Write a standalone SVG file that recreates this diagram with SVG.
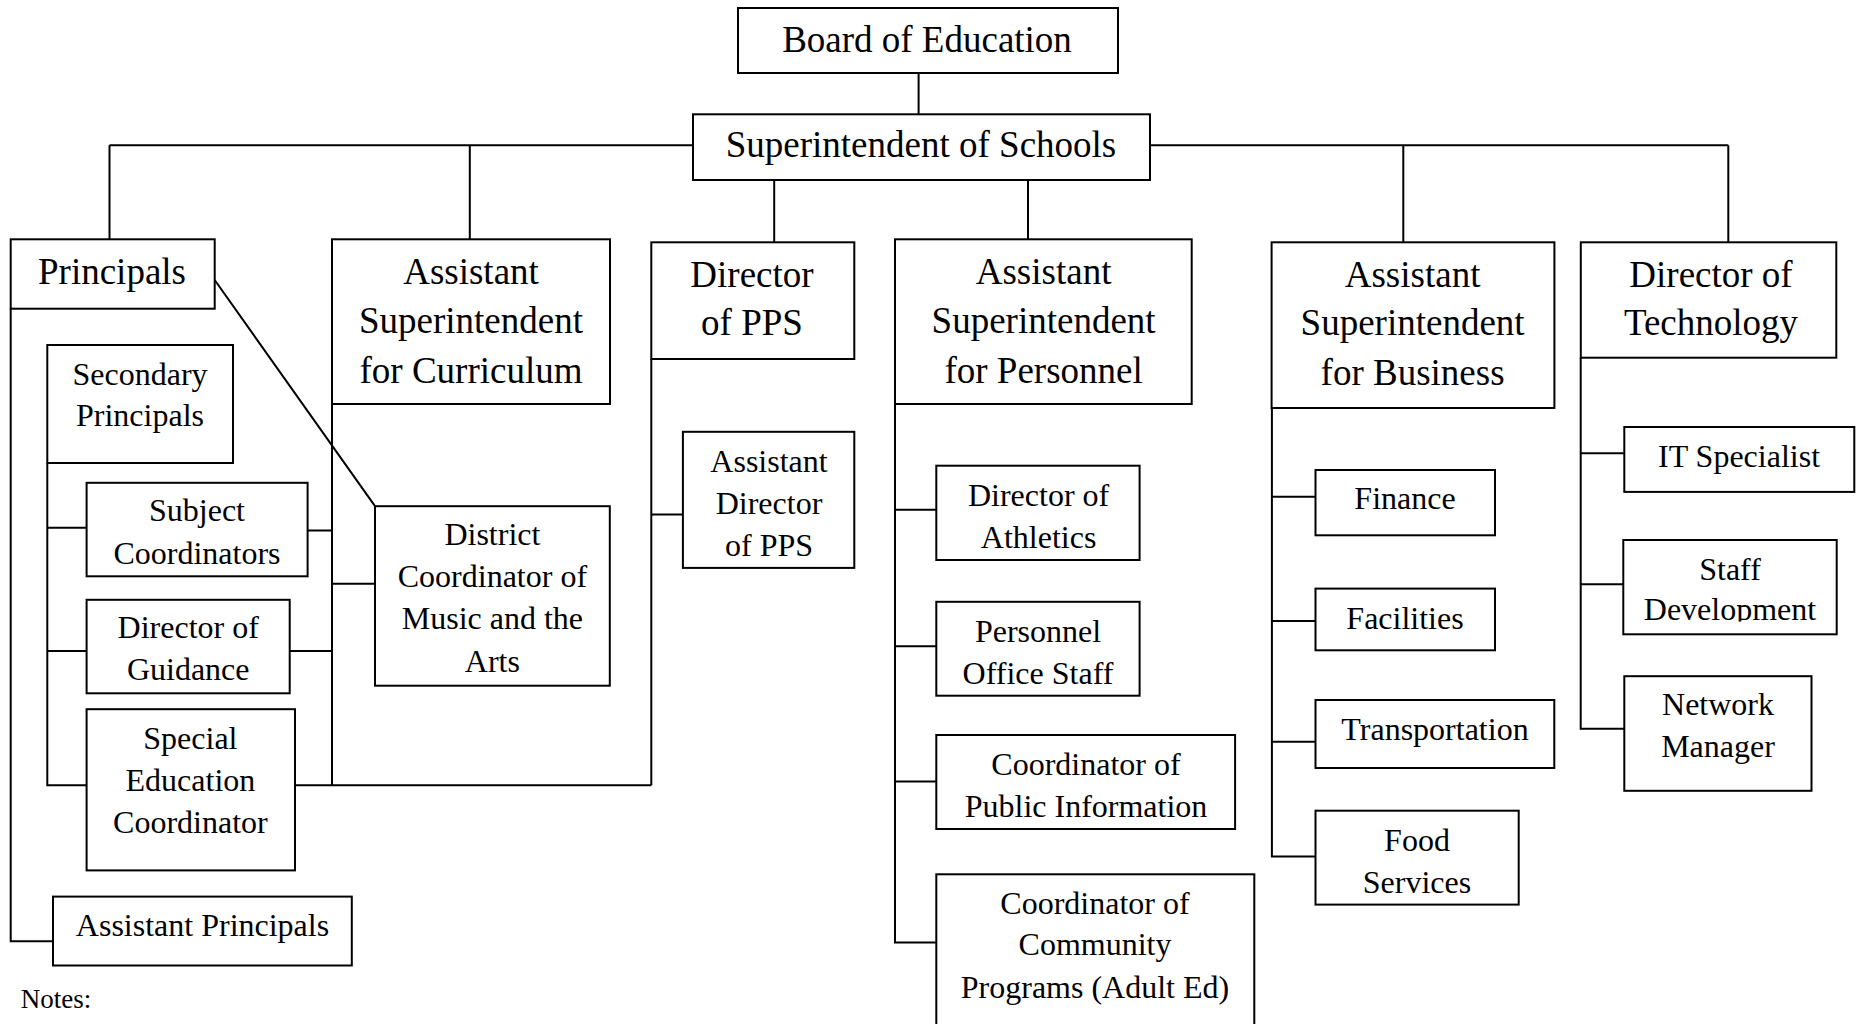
<svg xmlns="http://www.w3.org/2000/svg" width="1860" height="1024" viewBox="0 0 1860 1024">
<style>
rect{fill:#fff;stroke:#000;stroke-width:2}
#connectors path{fill:none;stroke:#000;stroke-width:2}
text{font-family:"Liberation Serif","Times New Roman",serif;fill:#000;text-anchor:middle}
.L{font-size:37px}
.S{font-size:32px}
</style>
<defs>
<clipPath id="sdclip"><rect x="1624" y="541" width="212" height="80.5"/></clipPath>
</defs>
<rect x="0" y="0" width="1860" height="1024" style="stroke:none"/>
<g id="connectors">
<path d="M109.5,145.3 H1728.3 M109.5,145.3 V239.3 M469.8,145.3 V239.3 M918.6,72.7 V114.3 M774.2,180 V242.3 M1028,180 V239.3 M1403.3,145.3 V242.3 M1728.3,145.3 V242.3"/>
<path d="M10.7,308.7 V941.2 H53 M47.3,462.9 V785.2 H86.6 M47.3,527.7 H86.6 M47.3,651.1 H86.6 M214.7,280 L375,506.2"/>
<path d="M332,404 V785.2 M307.6,530.5 H332 M289.7,651.1 H332 M332,583.8 H375 M295,785.2 H651.3"/>
<path d="M651.3,359 V785.2 M651.3,514.6 H682.9"/>
<path d="M895,404 V942.4 H936.3 M895,509.8 H936.3 M895,646.3 H936.3 M895,781.6 H936.3"/>
<path d="M1271.9,408 V856.4 H1315.5 M1271.9,496.7 H1315.5 M1271.9,620.9 H1315.5 M1271.9,741.8 H1315.5"/>
<path d="M1580.7,357.7 V728.7 H1624.3 M1580.7,453.3 H1624.3 M1580.7,584.2 H1624.3"/>
</g>
<g id="board"><rect x="738" y="8" width="380" height="65"/><text class="L" x="927" y="52">Board of Education</text></g>
<g id="superintendent"><rect x="693" y="114.3" width="457" height="65.7"/><text class="L" x="921" y="157">Superintendent of Schools</text></g>
<g id="principals"><rect x="10.7" y="239.3" width="204" height="69.4"/><text class="L" x="112" y="284">Principals</text></g>
<g id="asst-curriculum"><rect x="332" y="239.3" width="278" height="164.7"/><text class="L" x="471" y="284">Assistant</text><text class="L" x="471" y="333">Superintendent</text><text class="L" x="471" y="383">for Curriculum</text></g>
<g id="director-pps"><rect x="651.3" y="242.3" width="203" height="116.7"/><text class="L" x="752" y="287">Director</text><text class="L" x="752" y="335">of PPS</text></g>
<g id="asst-personnel"><rect x="895" y="239.3" width="296.7" height="164.7"/><text class="L" x="1043.6" y="284">Assistant</text><text class="L" x="1043.6" y="333">Superintendent</text><text class="L" x="1043.6" y="383">for Personnel</text></g>
<g id="asst-business"><rect x="1271.6" y="242.3" width="282.8" height="165.7"/><text class="L" x="1412.6" y="287">Assistant</text><text class="L" x="1412.6" y="335">Superintendent</text><text class="L" x="1412.6" y="385">for Business</text></g>
<g id="director-tech"><rect x="1580.8" y="242.3" width="255.5" height="115.4"/><text class="L" x="1711" y="287">Director of</text><text class="L" x="1711" y="335">Technology</text></g>
<g id="secondary-principals"><rect x="47.3" y="345" width="185.7" height="118"/><text class="S" x="140" y="385">Secondary</text><text class="S" x="140" y="426">Principals</text></g>
<g id="subject-coordinators"><rect x="86.6" y="482.8" width="221" height="93.5"/><text class="S" x="197" y="521">Subject</text><text class="S" x="197" y="564">Coordinators</text></g>
<g id="director-guidance"><rect x="86.6" y="599.8" width="203.1" height="93.5"/><text class="S" x="188.2" y="638">Director of</text><text class="S" x="188.2" y="680">Guidance</text></g>
<g id="special-ed"><rect x="86.6" y="709.2" width="208.4" height="161.2"/><text class="S" x="190.4" y="749">Special</text><text class="S" x="190.4" y="791">Education</text><text class="S" x="190.4" y="833">Coordinator</text></g>
<g id="district-music"><rect x="375" y="506.2" width="234.8" height="179.5"/><text class="S" x="492.4" y="545">District</text><text class="S" x="492.4" y="587">Coordinator of</text><text class="S" x="492.4" y="629">Music and the</text><text class="S" x="492.4" y="672">Arts</text></g>
<g id="assistant-principals"><rect x="53" y="896.6" width="298.8" height="68.9"/><text class="S" x="202.5" y="936">Assistant Principals</text></g>
<g id="asst-director-pps"><rect x="682.9" y="431.8" width="171.4" height="136.1"/><text class="S" x="769" y="472">Assistant</text><text class="S" x="769" y="514">Director</text><text class="S" x="769" y="556">of PPS</text></g>
<g id="athletics"><rect x="936.3" y="465.7" width="203.3" height="94.3"/><text class="S" x="1038.6" y="505.5">Director of</text><text class="S" x="1038.6" y="548">Athletics</text></g>
<g id="personnel-office"><rect x="936.3" y="601.8" width="203.3" height="93.9"/><text class="S" x="1038" y="641.5">Personnel</text><text class="S" x="1038" y="684">Office Staff</text></g>
<g id="public-info"><rect x="936.3" y="735" width="298.8" height="94"/><text class="S" x="1086" y="775">Coordinator of</text><text class="S" x="1086" y="817">Public Information</text></g>
<g id="community-programs"><rect x="936.3" y="874.3" width="318" height="160"/><text class="S" x="1095" y="913.5">Coordinator of</text><text class="S" x="1095" y="955">Community</text><text class="S" x="1095" y="997.5">Programs (Adult Ed)</text></g>
<g id="finance"><rect x="1315.5" y="470" width="179.5" height="65.3"/><text class="S" x="1405" y="509">Finance</text></g>
<g id="facilities"><rect x="1315.5" y="588.6" width="179.5" height="61.7"/><text class="S" x="1405" y="629">Facilities</text></g>
<g id="transportation"><rect x="1315.5" y="700" width="238.8" height="68"/><text class="S" x="1435" y="740">Transportation</text></g>
<g id="food-services"><rect x="1315.5" y="810.7" width="203.2" height="93.9"/><text class="S" x="1417" y="851">Food</text><text class="S" x="1417" y="893">Services</text></g>
<g id="it-specialist"><rect x="1624.3" y="427" width="230" height="64.9"/><text class="S" x="1739" y="467">IT Specialist</text></g>
<g id="staff-development"><rect x="1623.3" y="540" width="213.4" height="94.3"/><text class="S" x="1730" y="580">Staff</text><text class="S" x="1730" y="620" clip-path="url(#sdclip)">Development</text></g>
<g id="network-manager"><rect x="1624.3" y="676.2" width="187.2" height="114.6"/><text class="S" x="1718" y="715">Network</text><text class="S" x="1718" y="757">Manager</text></g>
<text x="20.7" y="1008" style="font-size:27px;text-anchor:start">Notes:</text>
</svg>
